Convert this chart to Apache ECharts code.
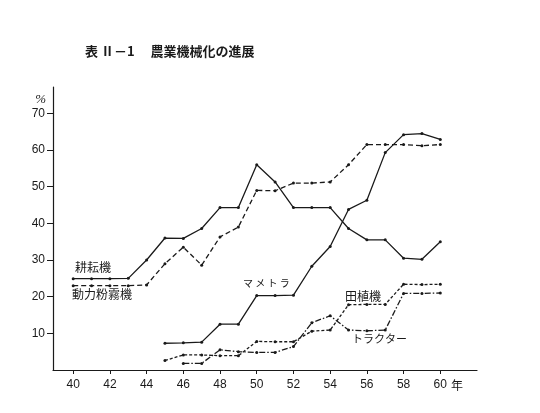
<!DOCTYPE html>
<html>
<head>
<meta charset="utf-8">
<script src="https://cdn.jsdelivr.net/npm/echarts@6/dist/echarts.min.js"></script>
<style>
  html, body { margin: 0; padding: 0; background: #fff; }
  #chart { width: 540px; height: 413px; }
</style>
</head>
<body>
<div id="chart"></div>
<script>
const years = [40, 41, 42, 43, 44, 45, 46, 47, 48, 49, 50, 51, 52, 53, 54, 55, 56, 57, 58, 59, 60];
// 耕耘機
const kouunki = [24.9, 24.9, 24.9, 25, 30, 36, 35.9, 38.6, 44.3, 44.3, 56, 51.3, 44.3, 44.3, 44.3, 38.6, 35.5, 35.5, 30.5, 30.2, 35];
// 動力粉霧機
const funmuki = [23, 23, 23, 23, 23.2, 29, 33.5, 28.6, 36.3, 39, 49, 48.9, 51, 51, 51.3, 56, 61.5, 61.5, 61.5, 61.2, 61.5];
// マメトラ
const mametora = [null, null, null, null, null, 7.3, 7.4, 7.6, 12.5, 12.5, 20.3, 20.3, 20.4, 28.3, 33.7, 43.8, 46.3, 59.3, 64.2, 64.5, 62.9];
// 田植機
const taueki = [null, null, null, null, null, 2.6, 4.1, 4.1, 3.9, 3.9, 7.8, 7.7, 7.7, 10.6, 10.9, 17.8, 17.9, 17.9, 23.4, 23.3, 23.4];
// トラクター
const tractor = [null, null, null, null, null, null, 1.8, 1.8, 5.5, 5.0, 4.8, 4.8, 6.4, 12.9, 14.8, 10.9, 10.7, 10.9, 20.9, 20.9, 21.0];

const xTicks = [40, 42, 44, 46, 48, 50, 52, 54, 56, 58, 60];
const yTicks = [10, 20, 30, 40, 50, 60, 70];

const ink = '#1a1a1a';

function pairs(vals) {
    return years.map((y, i) => [y, vals[i]]).filter(p => p[1] != null);
}

function line(name, vals, dash) {
    return {
        type: 'line',
        name: name,
        data: pairs(vals),
        symbol: 'circle',
        symbolSize: 3,
        itemStyle: {color: ink},
        lineStyle: {color: ink, width: 1.3, type: dash},
        animation: false
    };
}

const chart = echarts.init(document.getElementById('chart'));

const labelFont = '"Noto Sans CJK JP", sans-serif';

chart.setOption({
    backgroundColor: '#fff',
    title: {
        text: '表 Ⅱ－1　 農業機械化の進展',
        left: 80,
        top: 40,
        textStyle: {fontFamily: labelFont, fontSize: 13, fontWeight: 'bold', color: ink}
    },
    grid: {left: 53, right: 63, top: 87, bottom: 43},
    xAxis: {
        type: 'value',
        min: 38.9,
        max: 62.0,
        splitLine: {show: false},
        axisLine: {lineStyle: {color: ink, width: 1.2}},
        axisTick: {customValues: xTicks, length: 4, lineStyle: {color: ink}},
        axisLabel: {
            customValues: xTicks,
            color: ink,
            fontFamily: '"Liberation Sans", sans-serif',
            fontSize: 12,
            margin: 9
        }
    },
    yAxis: {
        type: 'value',
        min: 0,
        max: 77.2,
        name: '%',
        nameLocation: 'end',
        nameGap: -19,
        nameTextStyle: {color: ink, fontSize: 13, fontStyle: 'italic', align: 'right', padding: [0, 7, 0, 0], fontFamily: '"Liberation Serif", serif'},
        splitLine: {show: false},
        axisLine: {show: true, lineStyle: {color: ink, width: 1.2}},
        axisTick: {show: true, customValues: yTicks, length: 6, lineStyle: {color: ink}},
        axisLabel: {
            customValues: yTicks,
            color: ink,
            fontFamily: '"Liberation Sans", sans-serif',
            fontSize: 12,
            margin: 8
        }
    },
    graphic: [
        {type: 'text', left: 451, top: 379, style: {text: '年', font: '12px ' + labelFont, fill: ink}},
        {type: 'text', left: 75, top: 261, style: {text: '耕耘機', font: '12px ' + labelFont, fill: ink}},
        {type: 'text', left: 72, top: 288, style: {text: '動力粉霧機', font: '12px ' + labelFont, fill: ink}},
        {type: 'text', left: 243, top: 278, style: {text: 'マ メ ト ラ', font: '10px ' + labelFont, fill: ink}},
        {type: 'text', left: 345, top: 290, style: {text: '田植機', font: '12px ' + labelFont, fill: ink}},
        {type: 'text', left: 352, top: 333, style: {text: 'トラクター', font: '11px ' + labelFont, fill: ink}}
    ],
    series: [
        line('耕耘機', kouunki, 'solid'),
        line('動力粉霧機', funmuki, [5, 3]),
        line('マメトラ', mametora, 'solid'),
        line('田植機', taueki, [3, 2]),
        line('トラクター', tractor, [6, 2, 1.5, 2])
    ]
});
</script>
</body>
</html>
